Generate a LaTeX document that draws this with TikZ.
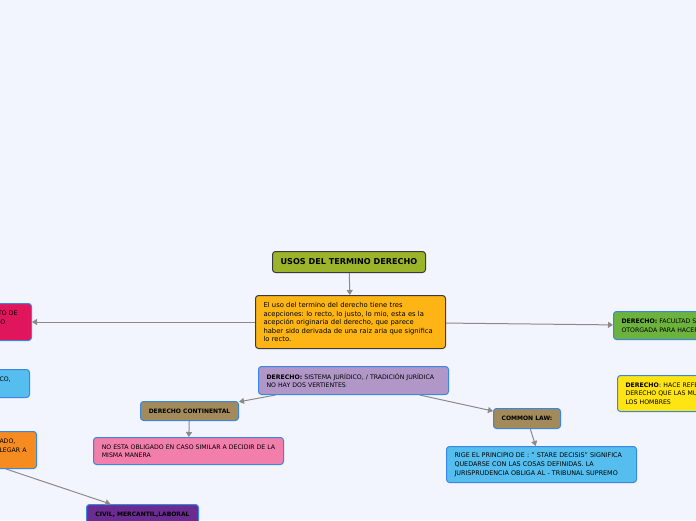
\documentclass[tikz,border=0pt]{standalone}
\usepackage{fontspec}
\setmainfont{DejaVu Sans}
\usetikzlibrary{arrows.meta}
\frenchspacing

\definecolor{pagebg}{HTML}{F2F5FD}
\definecolor{boxblue}{HTML}{3C86E3}
\definecolor{boxdark}{HTML}{3A3A3A}
\definecolor{linkgray}{HTML}{8A8A8A}
\definecolor{titlegreen}{HTML}{9BB52A}
\definecolor{maingold}{HTML}{FDB515}
\definecolor{hotpink}{HTML}{E0165C}
\definecolor{skyblue}{HTML}{56BEEE}
\definecolor{carrot}{HTML}{F68B1F}
\definecolor{leafgreen}{HTML}{6CB33E}
\definecolor{lemon}{HTML}{FFE413}
\definecolor{lilac}{HTML}{B197C8}
\definecolor{khaki}{HTML}{A28A5B}
\definecolor{rosepink}{HTML}{F27EAB}
\definecolor{plum}{HTML}{6B2C91}

\begin{document}
\begin{tikzpicture}[x=1pt, y=-1pt, >={Triangle[length=5pt,width=6pt]},
  box/.style={draw=boxblue, line width=1pt, rounded corners=3pt, inner xsep=8pt, inner ysep=0pt,
    align=left, anchor=north west, font=\fontsize{6.2}{8.5}\selectfont},
  tag/.style={box, align=center, font=\fontsize{6}{8.5}\selectfont\bfseries},
  link/.style={draw=linkgray, line width=1pt, ->}]
  \useasboundingbox (0,0) rectangle (696,520);
  \fill[pagebg] (0,0) rectangle (696,520);
  \clip (0,0) rectangle (696,520);

  % centre
  \node[box, draw=boxdark, fill=titlegreen, align=center, minimum width=153pt, minimum height=21pt,
    font=\fontsize{8.1}{10}\selectfont\bfseries] (title) at (272,251) {USOS DEL TERMINO DERECHO};
  \node[box, draw=boxdark, fill=maingold, minimum width=190pt, text width=174pt, minimum height=53pt,
    font=\fontsize{6.8}{8.5}\selectfont] (main) at (255,295)
    {El uso del termino del derecho tiene tres\\
     acepciones: lo recto, lo justo, lo mio, esta es la\\
     acepción originaria del derecho, que parece\\
     haber sido derivada de una raiz aria que significa\\
     lo recto.};
  \node[box, fill=lilac, minimum width=190pt, text width=174pt, minimum height=28pt] (sistema) at (258,366)
    {\textbf{DERECHO:} SISTEMA JURÍDICO, / TRADICIÓN JURÍDICA\\
     NO HAY DOS VERTIENTES{\color{boxblue}:}};

  % left side (cut by the page edge)
  \node[box, fill=hotpink, minimum width=46pt, text width=30pt, minimum height=37pt] (conjunto) at (-15,303)
    {NTO DE\\\hspace*{7pt}O\\~};
  \node[box, fill=skyblue, minimum width=38pt, text width=22pt, minimum height=28pt] (publico) at (-9,369)
    {CO,\\~};
  \node[box, fill=carrot, minimum width=45pt, text width=29pt, minimum height=37pt] (privado) at (-9,431)
    {ADO,\\LEGAR A\\~};

  % right side (cut by the page edge)
  \node[box, fill=leafgreen, minimum width=107pt, text width=91pt, minimum height=28pt] (facultad) at (613,311)
    {\textbf{DERECHO:} FACULTAD S\\OTORGADA PARA HACER};
  \node[box, fill=lemon, minimum width=107pt, text width=91pt, minimum height=36pt] (hombres) at (617,375)
    {\textbf{DERECHO}{\color{boxblue}\textbf{:}} HACE REFE\\DERECHO QUE LAS MU\\LOS HOMBRES};

  % two traditions
  \node[tag, fill=khaki, minimum width=98pt, minimum height=19pt] (continental) at (140,401) {DERECHO CONTINENTAL};
  \node[box, fill=rosepink, minimum width=190pt, minimum height=27pt] (noobliga) at (93,437)
    {NO ESTA OBLIGADO EN CASO SIMILAR A DECIDIR DE LA\\MISMA MANERA};
  \node[tag, fill=khaki, minimum width=67pt, minimum height=20pt] (common) at (493,408) {COMMON LAW:};
  \node[box, fill=skyblue, minimum width=190pt, text width=174pt, minimum height=36pt,
    font=\fontsize{6.4}{8.8}\selectfont] (stare) at (446,446)
    {RIGE EL PRINCIPIO DE : " STARE DECISIS" SIGNIFICA\\
     QUEDARSE CON LAS COSAS DEFINIDAS. LA\\
     JURISPRUDENCIA OBLIGA AL - TRIBUNAL SUPREMO};
  \node[tag, fill=plum, minimum width=112pt, minimum height=20pt] (civil) at (86,504) {CIVIL, MERCANTIL,LABORAL};

  \draw[link] (title) -- (main);
  \draw[link] (main) -- (conjunto);
  \draw[link] (main) -- (facultad);
  \draw[link] (sistema) -- (continental);
  \draw[link] (sistema) -- (common);
  \draw[link] (continental) -- (noobliga);
  \draw[link] (common) -- (stare);
  \draw[link] ([xshift=-8pt]privado.south) -- ([xshift=-32pt]civil.north);
\end{tikzpicture}
\end{document}
